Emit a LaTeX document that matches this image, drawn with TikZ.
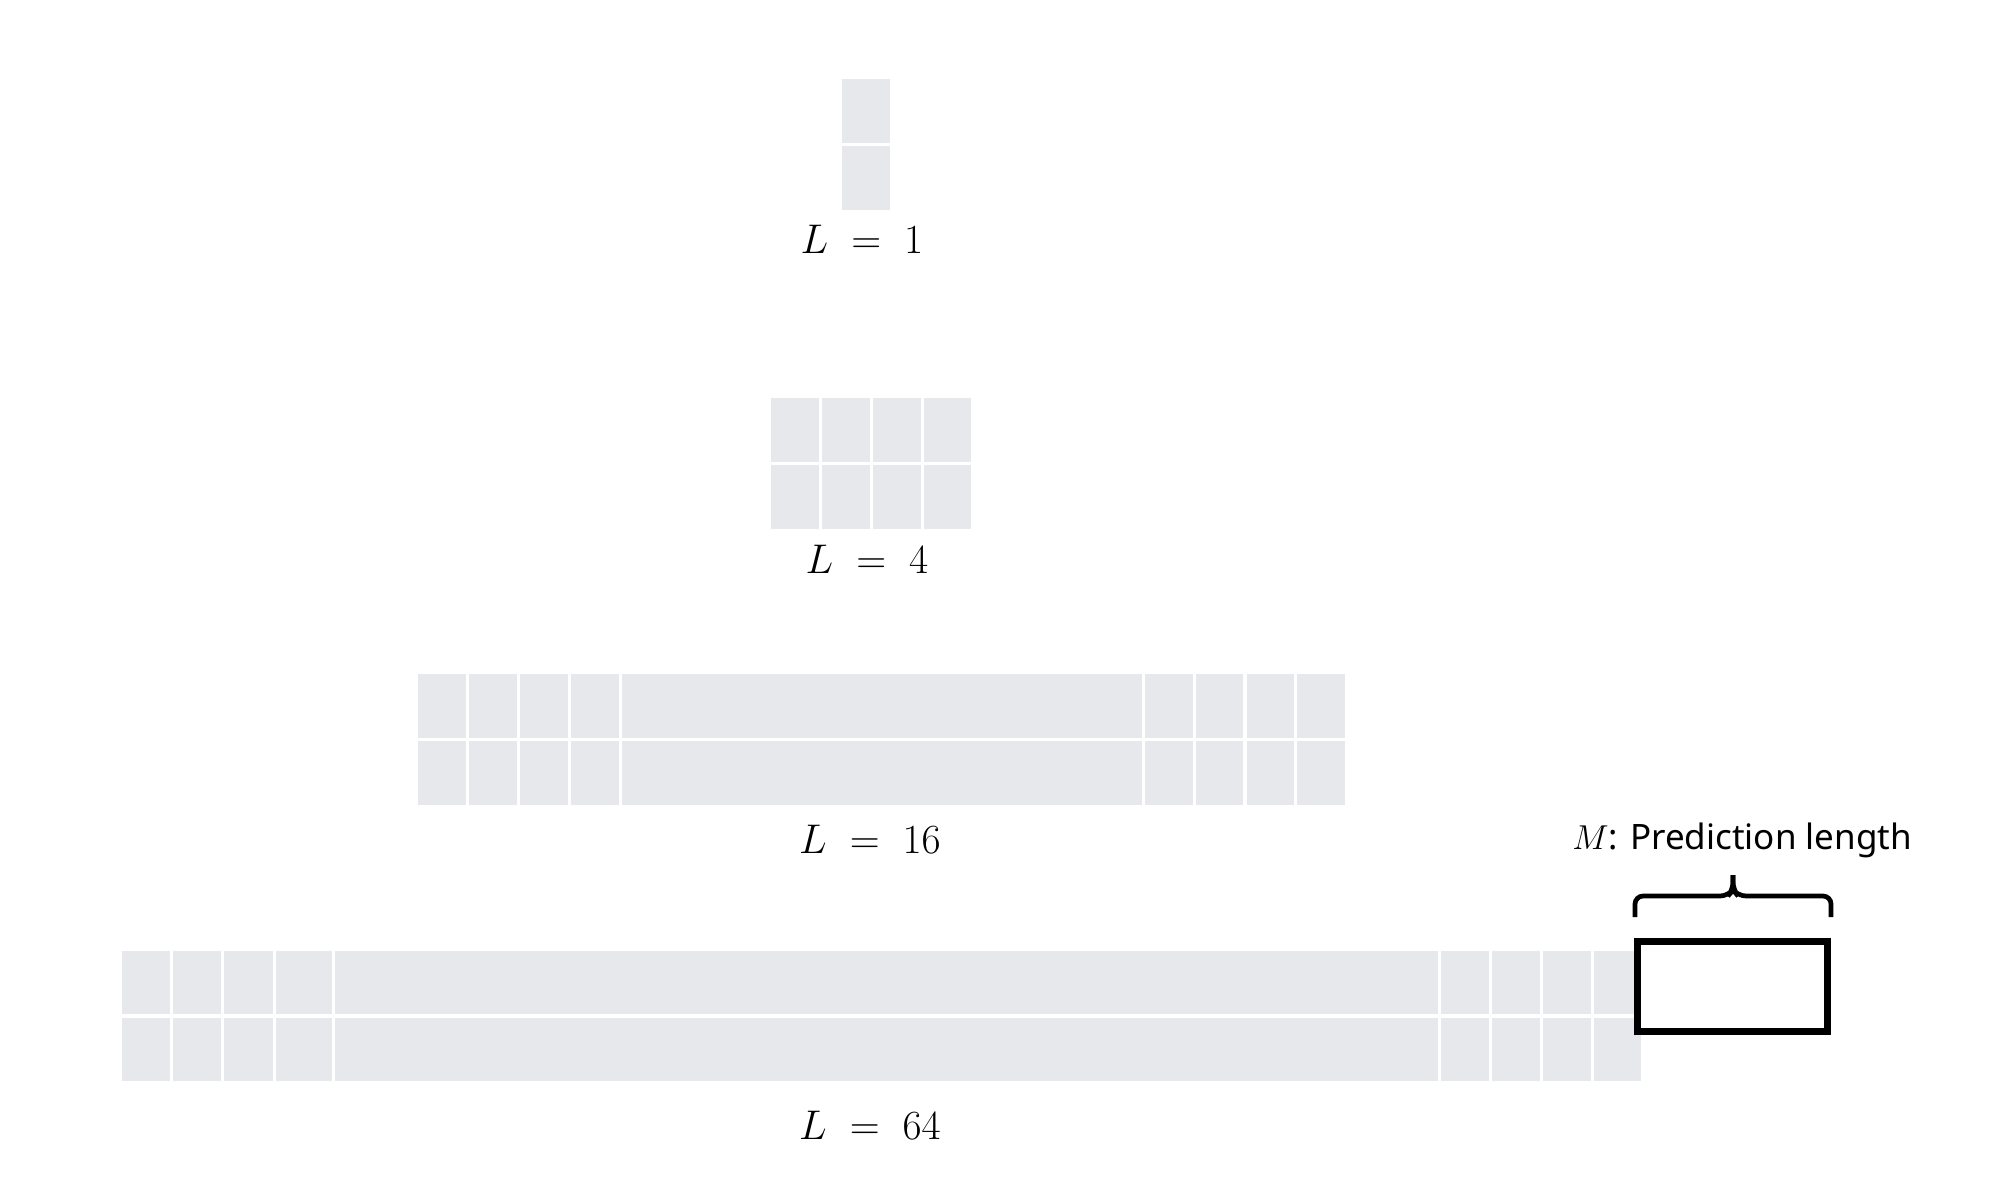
\documentclass[tikz,border=0pt]{standalone}
\usepackage{fontspec}
\newfontfamily\labelfont{Noto Sans}
\definecolor{cellgrey}{HTML}{E7E8EC}
\begin{document}
\begin{tikzpicture}[x=0.5pt,y=-0.5pt,
  cell/.style={fill=cellgrey,draw=none},
  lvl/.style={anchor=base,inner sep=0pt,font=\fontsize{22.7pt}{27pt}\selectfont},
  predbox/.style={draw=black,line width=3.35pt,fill=none},
  bracepath/.style={draw=black,line width=2.35pt,rounded corners=4pt}]
\useasboundingbox (0,0) rectangle (2016,1182);
% L = 1
\foreach \ya/\yb in {79/143,146/210}
  \fill[cell] (842,\ya) rectangle (890,\yb);
\node[lvl] (l1) at (862,253) {$L\;=\;1$};
% L = 4
\foreach \xa/\xb in {771/819,822/870,873/921,924/971}
  \foreach \ya/\yb in {398/462,465/529}
    \fill[cell] (\xa,\ya) rectangle (\xb,\yb);
\node[lvl] (l4) at (867,573) {$L\;=\;4$};
% L = 16
\foreach \xa/\xb in {418/466,469/517,520/568,571/619,622/1142,1145/1193,1196/1243,1247/1294,1297/1345}
  \foreach \ya/\yb in {674/738,741/805}
    \fill[cell] (\xa,\ya) rectangle (\xb,\yb);
\node[lvl] (l16) at (870,853) {$L\;=\;16$};
% L = 64
\foreach \xa/\xb in {122/170,173/221,224/273,276/332,335/1438,1441/1489,1492/1540,1543/1591,1594/1641}
  \foreach \ya/\yb in {951/1014,1018/1081}
    \fill[cell] (\xa,\ya) rectangle (\xb,\yb);
\node[lvl] (l64) at (870,1139) {$L\;=\;64$};
% prediction box
\node[predbox,minimum width=95pt,minimum height=45pt,inner sep=0pt] (pred) at (1732.7,986.3) {};
% brace
\coordinate (bl) at (1635,917);
\coordinate (br) at (1831,917);
\coordinate (bt) at (1733,875);
\draw[bracepath] (bl) -- (1635,896) -- (1728,896) -- (1733,890) -- (bt);
\draw[bracepath] (br) -- (1831,896) -- (1738,896) -- (1733,890) -- (bt);
\node[anchor=base west,inner sep=0pt,font=\fontsize{17.5pt}{21pt}\selectfont\labelfont] (mlabel) at (1572,849) {$M$: Prediction length};
\end{tikzpicture}
\end{document}
